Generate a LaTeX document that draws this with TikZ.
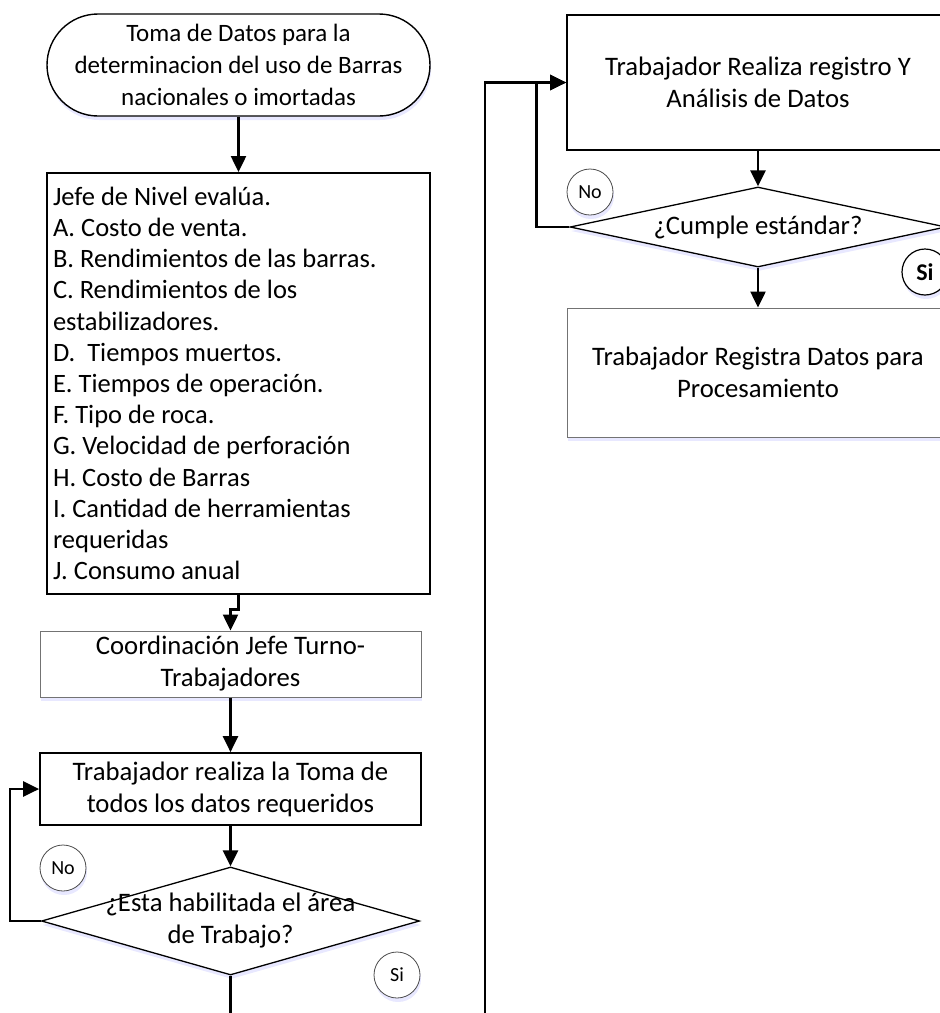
\documentclass[tikz,border=0pt]{standalone}
\usepackage{fontspec}
\setmainfont{Carlito}
\usetikzlibrary{arrows.meta,shapes.geometric,shapes.misc,shadows,positioning}
\newcommand{\flowFont}[0]{\fontsize{26.7}{32}\selectfont}
\newcommand{\titleFont}[0]{\fontsize{25}{32}\selectfont}
\newcommand{\listFont}[0]{\fontsize{26.5}{31.2}\selectfont}
\newcommand{\tagFont}[0]{\fontsize{20}{22}\selectfont}

\begin{document}
\begin{tikzpicture}[x=1pt, y=-1pt]
  \tikzset{
    every node/.style={font=\flowFont},
    glow/.style={drop shadow={shadow xshift=1pt, shadow yshift=-4pt, fill=blue!30, opacity=.3}},
    startbox/.style={rounded rectangle, draw, line width=1.4pt, fill=white, glow,
      minimum width=383pt, minimum height=102pt, align=center, inner sep=0pt, font=\titleFont},
    stepbox/.style={rectangle, draw, line width=1.7pt, fill=white, align=center, inner sep=0pt},
    softbox/.style={rectangle, draw=black!55, line width=1pt, fill=white, glow, align=center, inner sep=0pt},
    decision/.style={diamond, draw, line width=1.3pt, fill=white, glow, inner sep=0pt},
    tag/.style={circle, draw=black!70, line width=.8pt, fill=white, glow, minimum size=46pt,
      inner sep=0pt, font=\tagFont},
    flow/.style={line width=2.5pt, -{Triangle[length=16pt, width=15pt]}},
    link/.style={line width=2.5pt}
  }
  \path[use as bounding box, clip] (0,0) rectangle (940,1013);

  \node[startbox] (start) at (238.5,65)
    {Toma de Datos para la\\determinacion del uso de Barras\\nacionales o imortadas};
  \node[stepbox, anchor=north, minimum height=421pt, text width=371pt, align=flush left,
    inner xsep=6pt, font=\listFont] (eval) at (238.5,172)
    {Jefe de Nivel evalúa.\\
     A. Costo de venta.\\
     B. Rendimientos de las barras.\\
     C. Rendimientos de los\\
     estabilizadores.\\
     D.~~Tiempos muertos.\\
     E. Tiempos de operación.\\
     F. Tipo de roca.\\
     G. Velocidad de perforación\\
     H. Costo de Barras\\
     I. Cantidad de herramientas\\
     requeridas\\
     J. Consumo anual};
  \node[softbox, minimum width=381pt, minimum height=66pt] (coord) at (230.5,664)
    {Coordinación Jefe Turno-\\Trabajadores};
  \node[stepbox, minimum width=381pt, minimum height=72pt] (toma) at (230.5,789)
    {Trabajador realiza la Toma de\\todos los datos requeridos};
  \node[decision, minimum width=378pt, minimum height=108pt] (q1) at (230.5,921) {};
  \node[align=center] (q1text) at (q1) {¿Esta habilitada el área\\de Trabajo?};
  \node[tag] (noL) at (63,868) {No};
  \node[tag] (siL) at (397,975) {Si};
  \coordinate (cutL) at (230.5,1020);

  \node[stepbox, minimum width=382pt, minimum height=135pt] (reg) at (758,82.5)
    {Trabajador Realiza registro Y\\Análisis de Datos};
  \node[decision, minimum width=376pt, minimum height=80pt] (q2) at (758,227) {};
  \node (q2text) at (q2) {¿Cumple estándar?};
  \node[softbox, minimum width=382pt, minimum height=129pt] (proc) at (758,372.5)
    {Trabajador Registra Datos para\\Procesamiento};
  \node[tag] (noR) at (590,192) {No};
  \node[tag, draw=black, line width=1.2pt, font=\fontsize{24}{26}\selectfont\bfseries] (siR) at (925,272) {Si};
  \coordinate (cutR) at (485,1020);

  \draw[flow] (start) -- (eval);
  \draw[flow] (eval.south) -- ++(0,15) -| (coord.north);
  \draw[flow] (coord) -- (toma);
  \draw[flow] (toma) -- (q1);
  \draw[flow] (q1.west) -- ++(-31,0) |- (toma.west);
  \draw[link] (q1.south) -- (cutL);
  \draw[flow] (cutR) |- (reg.west);
  \draw[flow] (reg) -- (q2);
  \draw[flow] (q2.west) -- ++(-33,0) |- (reg.west);
  \draw[flow] (q2) -- (proc);
\end{tikzpicture}
\end{document}
